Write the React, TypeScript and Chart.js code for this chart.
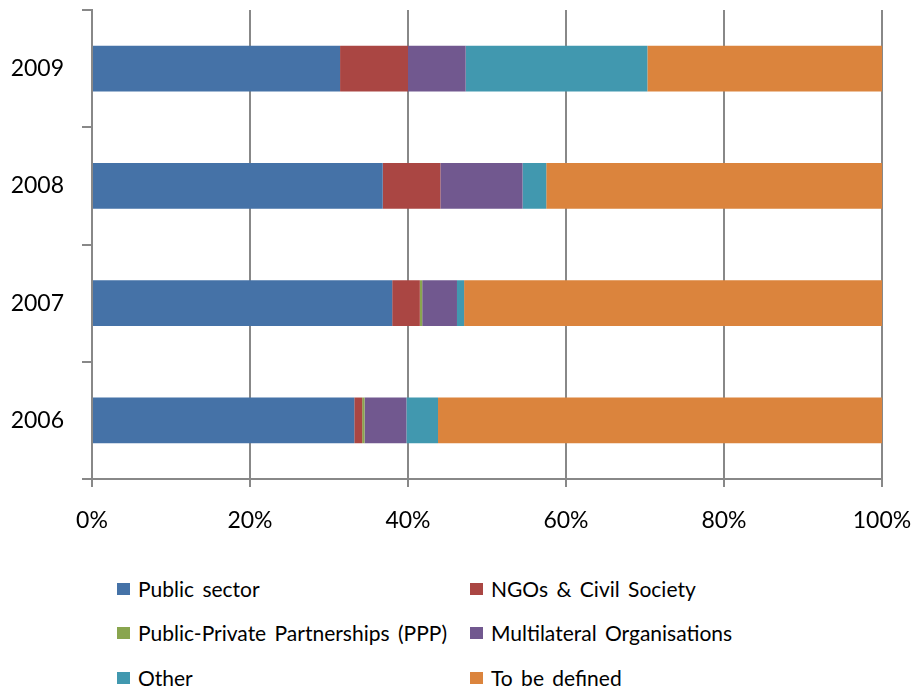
import React, { useEffect, useRef } from "react";
import { Chart, registerables } from "chart.js";

Chart.register(...registerables);

const years = ["2009", "2008", "2007", "2006"];
const seriesNames = [
  "Public sector",
  "NGOs & Civil Society",
  "Public-Private Partnerships (PPP)",
  "Multilateral Organisations",
  "Other",
  "To be defined",
];
const seriesColors = ["#4572A7", "#AA4643", "#89A54E", "#71588F", "#4198AF", "#DB843D"];
const publicSector = [31.4, 36.8, 38.0, 33.2];
const ngos = [8.6, 7.3, 3.5, 1.0];
const ppp = [0, 0, 0.3, 0.3];
const multilateral = [7.3, 10.4, 4.4, 5.3];
const other = [23.0, 3.0, 0.9, 4.0];
const toBeDefined = [29.7, 42.5, 52.9, 56.2];
const seriesValues = [publicSector, ngos, ppp, multilateral, other, toBeDefined];
const xTickStep = 20;

const FONT = "Lato, 'Open Sans', sans-serif";
const AXIS = "#888888";

export default function App() {
  const ref = useRef<HTMLCanvasElement | null>(null);

  useEffect(() => {
    if (!ref.current) return;
    const chart = new Chart(ref.current, {
      type: "bar",
      data: {
        labels: years,
        datasets: seriesNames.map((name, i) => ({
          label: name,
          data: seriesValues[i],
          backgroundColor: seriesColors[i],
          borderWidth: 0,
          barPercentage: 0.39,
          categoryPercentage: 1,
        })),
      },
      options: {
        indexAxis: "y",
        responsive: false,
        animation: false,
        layout: { padding: { top: 10, right: 33, left: 0, bottom: 0 } },
        plugins: { legend: { display: false }, tooltip: { enabled: false } },
        scales: {
          x: {
            stacked: true,
            min: 0,
            max: 100,
            ticks: {
              stepSize: xTickStep,
              callback: (v: any) => v + "%",
              color: "#000",
              font: { family: FONT, size: 23 },
              padding: 20,
              maxRotation: 0,
            },
            grid: { color: AXIS, lineWidth: 2, tickLength: 8, drawTicks: true },
            border: { color: AXIS, width: 2 },
            afterFit: (s: any) => {
              s.height = 81;
              s.paddingLeft = 0;
              s.paddingRight = 0;
              s.paddingTop = 0;
              s.paddingBottom = 0;
            },
          },
          y: {
            stacked: true,
            ticks: {
              color: "#000",
              font: { family: FONT, size: 23 },
              padding: 18,
            },
            grid: {
              drawOnChartArea: false,
              color: AXIS,
              lineWidth: 2,
              tickLength: 10,
              offset: true,
            },
            border: { color: AXIS, width: 2 },
            afterFit: (s: any) => {
              s.width = 92;
              s.paddingLeft = 0;
              s.paddingRight = 0;
              s.paddingTop = 0;
              s.paddingBottom = 0;
            },
          },
        },
      },
    });
    return () => chart.destroy();
  }, []);

  const legendPos = [
    { left: 117, top: 577 },
    { left: 470, top: 577 },
    { left: 117, top: 621 },
    { left: 470, top: 621 },
    { left: 117, top: 666 },
    { left: 470, top: 666 },
  ];

  return (
    <div
      style={{
        position: "fixed",
        left: 0,
        top: 0,
        width: 915,
        height: 693,
        background: "#fff",
        overflow: "hidden",
      }}
    >
      <canvas ref={ref} width={915} height={560} style={{ display: "block" }} />
      {seriesNames.map((name, i) => (
        <div
          key={name}
          style={{
            position: "absolute",
            left: legendPos[i].left,
            top: legendPos[i].top,
            height: 24,
            display: "flex",
            alignItems: "center",
            fontFamily: FONT,
            fontSize: 21,
            lineHeight: "24px",
            wordSpacing: 3,
            color: "#000",
            whiteSpace: "nowrap",
          }}
        >
          <span
            style={{
              display: "inline-block",
              width: 13,
              height: 12,
              background: seriesColors[i],
              marginRight: 8,
            }}
          />
          <span>{name}</span>
        </div>
      ))}
    </div>
  );
}
